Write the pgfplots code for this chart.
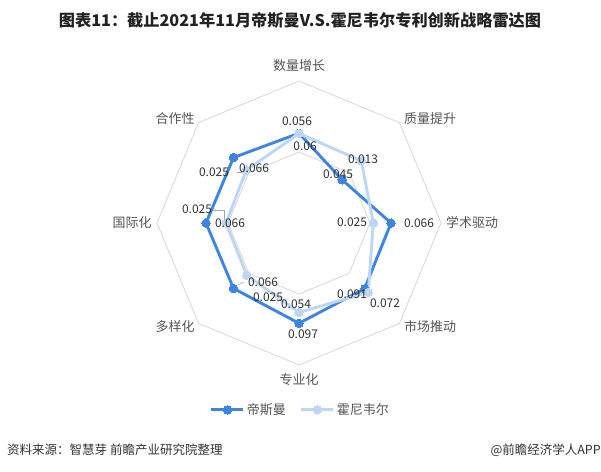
\documentclass[border=0pt]{standalone}
\usepackage{pgfplots}
\pgfplotsset{compat=1.18}
\usepgfplotslibrary{polar}
\usepackage{fontspec}
\setmainfont{Noto Sans CJK SC}
\definecolor{dsm}{HTML}{3D85E0}
\definecolor{hon}{HTML}{BCD6F4}
\definecolor{ringc}{HTML}{D6D6D6}
\definecolor{axlab}{HTML}{555555}
\definecolor{labc}{HTML}{333333}
\definecolor{titc}{HTML}{222222}
\newcommand\lab[3]{\node[font=\fontsize{12}{12}\selectfont, text=labc, inner sep=0pt] at (#1,{471-#2}) {#3};}
\newcommand\axl[3]{\node[font=\fontsize{13}{13}\selectfont, text=axlab, inner sep=0pt] at (#1,{471-#2}) {#3};}
\begin{document}
\begin{tikzpicture}
\begin{scope}[x=1pt,y=1pt]
\useasboundingbox (0,0) rectangle (601,471);
\end{scope}
\begin{polaraxis}[
  at={(299pt,248pt)}, anchor=center,
  scale only axis, width=284pt, height=284pt,
  ymin=0, ymax=1, hide axis, clip=false,
  legend columns=2,
  legend style={at={(0.505,-0.158)}, anchor=center, draw=none, fill=none,
    font=\fontsize{13}{13}\selectfont, text=axlab,
    /tikz/every even column/.append style={column sep=12pt}},
  legend image code/.code={\draw[#1, mark repeat=2, mark phase=2] plot coordinates {(0pt,0pt) (16pt,0pt) (32pt,0pt)};},
]
\addplot[ringc, line width=0.8pt, forget plot] coordinates {(90,1)(45,1)(0,1)(315,1)(270,1)(225,1)(180,1)(135,1)(90,1)};
\addplot[ringc, line width=0.8pt, forget plot] coordinates {(90,0.5)(45,0.5)(0,0.5)(315,0.5)(270,0.5)(225,0.5)(180,0.5)(135,0.5)(90,0.5)};
\addplot[dsm, line width=2.9pt, line join=round, mark=*, mark size=4.2pt, mark options={fill=dsm, draw=dsm, line width=0pt}]
 coordinates {(90,0.632)(45,0.43)(0,0.648)(315,0.654)(270,0.706)(225,0.652)(180,0.655)(135,0.652)(90,0.632)};
\addlegendentry{帝斯曼}
\addplot[hon, line width=2.9pt, line join=round, mark=*, mark size=4.2pt, mark options={fill=hon, draw=hon, line width=0pt}]
 coordinates {(90,0.63)(45,0.62)(0,0.523)(315,0.69)(270,0.63)(225,0.52)(180,0.514)(135,0.526)(90,0.63)};
\addlegendentry{霍尼韦尔}
\end{polaraxis}
\begin{scope}[x=1pt,y=1pt]
\node[font=\fontsize{16.2}{16.2}\selectfont\bfseries, text=titc, inner sep=0pt] at (300,{471-20}) {图表11：截止2021年11月帝斯曼V.S.霍尼韦尔专利创新战略雷达图};
\axl{299}{66}{数量增长}
\axl{430}{119}{质量提升}
\axl{472}{223}{学术驱动}
\axl{430}{327}{市场推动}
\axl{299}{380}{专业化}
\axl{175}{327}{多样化}
\axl{132}{223}{国际化}
\axl{175}{119}{合作性}
\lab{297}{121}{0.056}
\lab{305}{146}{0.06}
\lab{363}{159}{0.013}
\lab{338}{174}{0.045}
\lab{352}{222}{0.025}
\lab{419}{223}{0.066}
\lab{352}{294}{0.091}
\lab{385}{303}{0.072}
\lab{296}{304}{0.054}
\lab{303}{334}{0.097}
\lab{268}{297}{0.025}
\lab{263}{282}{0.066}
\lab{197}{209}{0.025}
\lab{230}{223}{0.066}
\lab{214}{172}{0.025}
\lab{254}{168}{0.066}
\draw[gray!70, line width=0.5pt] (213,{471-210}) -- (224,{471-210}) -- (224,{471-220});
\draw[gray!70, line width=0.5pt] (236.5,{471-172.5}) -- (242,{471-172.5});
\draw[gray!70, line width=0.5pt] (238,{471-285}) -- (244,{471-282});
\node[font=\fontsize{12.5}{12.5}\selectfont, text=labc, inner sep=0pt, anchor=west] at (7,{471-450}) {资料来源：智慧芽 前瞻产业研究院整理};
\node[font=\fontsize{12.5}{12.5}\selectfont, text=labc, inner sep=0pt, anchor=east] at (601,{471-450}) {@前瞻经济学人APP};
\end{scope}
\end{tikzpicture}
\end{document}
